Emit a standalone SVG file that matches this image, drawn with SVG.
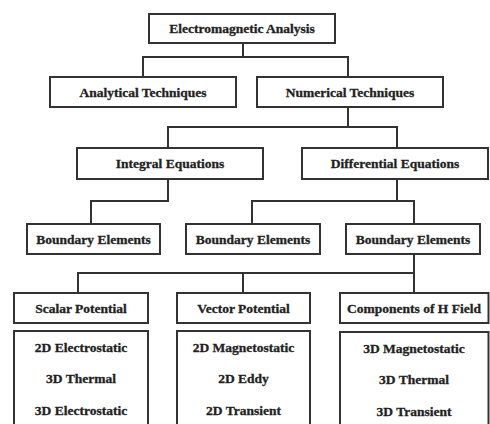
<svg xmlns="http://www.w3.org/2000/svg" width="490" height="424" viewBox="0 0 490 424">
<style>
.b{fill:#fff;stroke:#333;stroke-width:2}
.t{font-family:"Liberation Serif","Times New Roman",serif;font-weight:bold;font-size:13.5px;fill:#222;stroke:#222;stroke-width:0.3;text-anchor:middle;dominant-baseline:central}
.c{fill:none;stroke:#333;stroke-width:2}
</style>
<rect width="490" height="424" fill="#fff"/>
<g id="connectors">
<path class="c" d="M243 43V57M143 77V57H348V77"/>
<path class="c" d="M348 107V127M168 148V127H397V148"/>
<path class="c" d="M168 179V201H91V224"/>
<path class="c" d="M397 179V201M252 224V201H414V224"/>
<path class="c" d="M414 254V273M78 293V273H414V293M243 273V293"/>
</g>
<g id="n-em"><rect class="b" x="149" y="14" width="186" height="29"/><text class="t" x="242" y="28.5">Electromagnetic Analysis</text></g>
<g id="n-analytical"><rect class="b" x="50" y="77" width="186" height="30"/><text class="t" x="143" y="92">Analytical Techniques</text></g>
<g id="n-numerical"><rect class="b" x="257" y="77" width="186" height="30"/><text class="t" x="350" y="92">Numerical Techniques</text></g>
<g id="n-integral"><rect class="b" x="77" y="148" width="186" height="31"/><text class="t" x="170" y="163.5">Integral Equations</text></g>
<g id="n-differential"><rect class="b" x="302" y="148" width="186" height="31"/><text class="t" x="395" y="163.5">Differential Equations</text></g>
<g id="n-be1"><rect class="b" x="27" y="224" width="133" height="30"/><text class="t" x="93.5" y="239">Boundary Elements</text></g>
<g id="n-be2"><rect class="b" x="186" y="224" width="134" height="30"/><text class="t" x="253" y="239">Boundary Elements</text></g>
<g id="n-be3"><rect class="b" x="346" y="224" width="134" height="30"/><text class="t" x="413" y="239">Boundary Elements</text></g>
<g id="n-scalar"><rect class="b" x="14" y="293" width="134" height="30"/><text class="t" x="81" y="308">Scalar Potential</text></g>
<g id="n-vector"><rect class="b" x="177" y="293" width="133" height="30"/><text class="t" x="243.5" y="308">Vector Potential</text></g>
<g id="n-components"><rect class="b" x="340" y="293" width="148.5" height="30"/><text class="t" x="414" y="308">Components of H Field</text></g>
<g id="n-scalar-list"><rect class="b" x="14" y="331" width="134" height="100"/>
<text class="t" x="81" y="347">2D Electrostatic</text><text class="t" x="81" y="378">3D Thermal</text><text class="t" x="81" y="410">3D Electrostatic</text></g>
<g id="n-vector-list"><rect class="b" x="177" y="331" width="133" height="100"/>
<text class="t" x="243.5" y="347">2D Magnetostatic</text><text class="t" x="243.5" y="378">2D Eddy</text><text class="t" x="243.5" y="410">2D Transient</text></g>
<g id="n-components-list"><rect class="b" x="340" y="332" width="148.5" height="100"/>
<text class="t" x="414" y="348">3D Magnetostatic</text><text class="t" x="414" y="379">3D Thermal</text><text class="t" x="414" y="411">3D Transient</text></g>
</svg>
